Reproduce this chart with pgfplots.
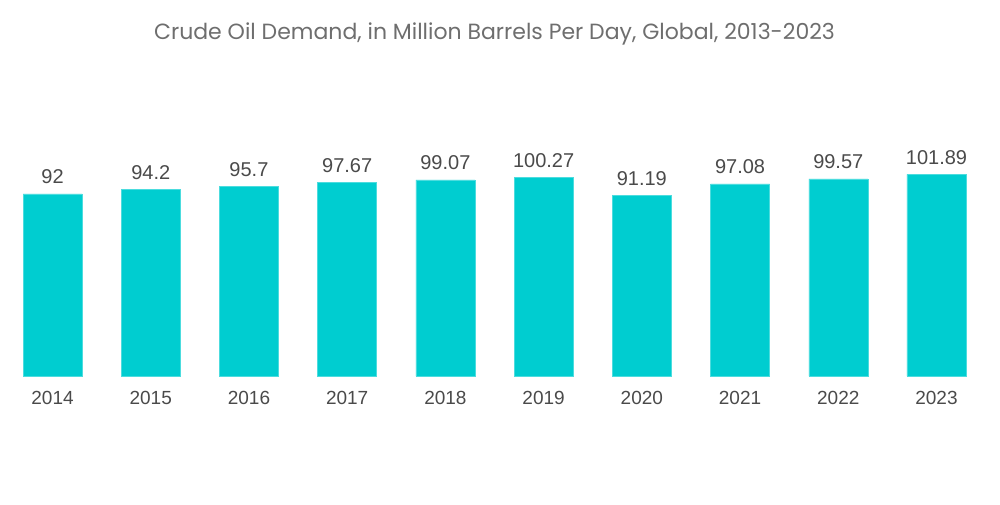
\documentclass[border=0pt]{standalone}
\usepackage{fontspec}
\setmainfont{Liberation Sans}
\newfontfamily\titlefont{Poppins}
\usepackage{pgfplots}
\pgfplotsset{compat=1.18}
\definecolor{barcol}{HTML}{00CDD0}
\definecolor{valtext}{HTML}{4A4A4A}
\definecolor{titletext}{HTML}{6E6E6E}
\begin{document}
\begin{tikzpicture}
\useasboundingbox (-3.4pt,-128pt) rectangle (996.6pt,376pt);
\begin{axis}[
  scale only axis,
  width=982.2pt, height=217.8pt,
  at={(0,0)}, anchor=south west,
  xmin=-0.5, xmax=9.5,
  ymin=0, ymax=110,
  axis line style={draw=none},
  ytick=\empty,
  xtick={0,...,9},
  xticklabels={2014,2015,2016,2017,2018,2019,2020,2021,2022,2023},
  major tick length=0pt,
  xticklabel style={anchor=base, yshift=-28pt, font=\fontsize{19}{22}\selectfont, text=valtext},
  /pgf/number format/assume math mode=true,
  title={Crude Oil Demand, in Million Barrels Per Day, Global, 2013-2023},
  title style={at={(axis description cs:0.5,1)}, anchor=center, yshift=118pt,
    font=\titlefont\fontsize{22}{26}\selectfont, text=titletext},
  nodes near coords,
  nodes near coords style={anchor=base, yshift=10pt, font=\fontsize{20}{24}\selectfont, text=valtext},
]
\addplot[ybar, bar width=59pt, fill=barcol, draw=barcol!70!white] coordinates {
  (0,92) (1,94.2) (2,95.7) (3,97.67) (4,99.07)
  (5,100.27) (6,91.19) (7,97.08) (8,99.57) (9,101.89)
};
\end{axis}
\end{tikzpicture}
\end{document}
